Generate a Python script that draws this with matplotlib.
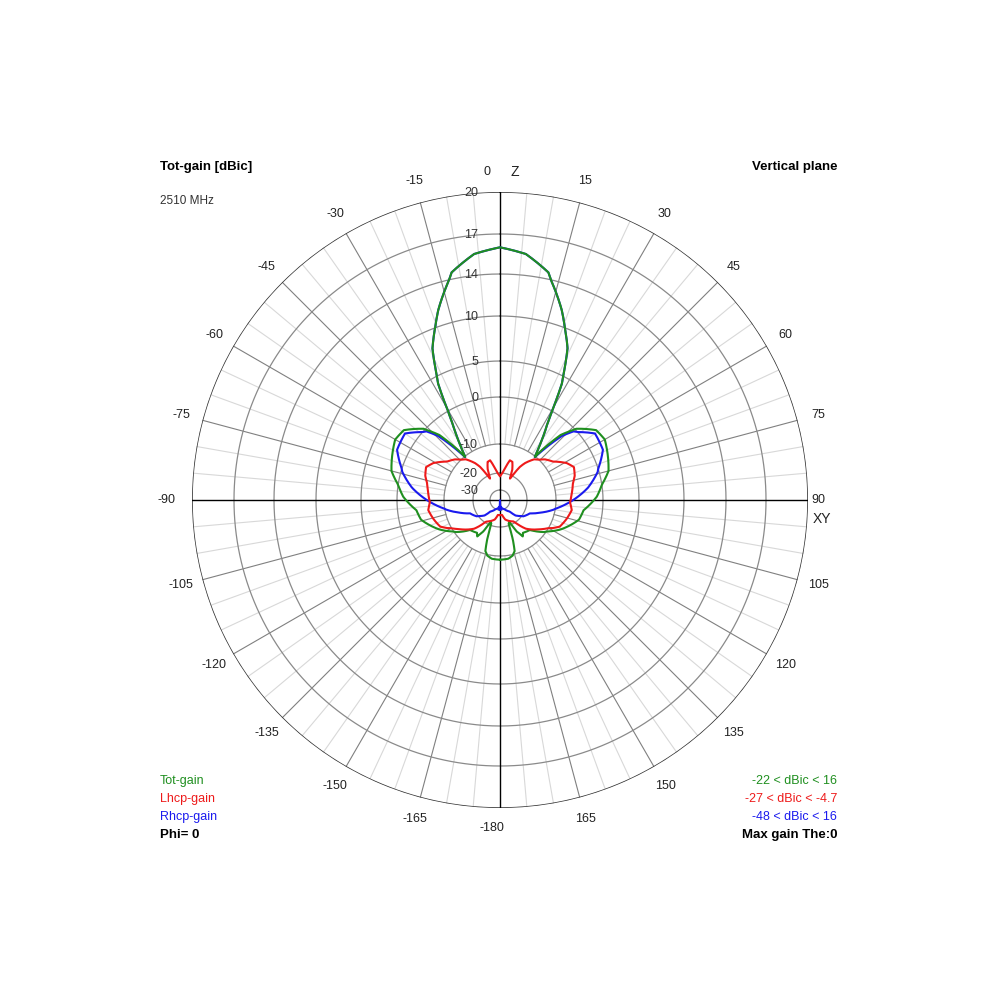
import numpy as np
import matplotlib
matplotlib.use("Agg")
import matplotlib.pyplot as plt

plt.rcParams['font.family'] = ['Liberation Sans', 'DejaVu Sans']

# radial scale: dB ring values and their display radius (pixels of outer radius 308)
ring_db = [-50, -40, -30, -20, -10, 0, 5, 10, 14, 17, 20]
ring_px = [0, 4, 10, 27, 56, 103, 139, 184, 226, 266, 308]
ring_labels = ["-30", "-20", "-10", "0", "5", "10", "14", "17", "20"]

# patterns (angle deg clockwise from Z, dBic), right half; mirrored for left
tot_ang = [0, 6, 12, 18, 21, 24, 28, 32, 35, 37, 39, 40, 43, 47, 54, 60, 65, 75, 88, 97, 104, 116, 126, 135, 145, 148, 150, 152, 157, 160, 162, 164, 167, 172, 180]
tot_db = [16, 15.6, 14.5, 11.5, 9.8, 8, 4, -3, -6.5, -8.5, -10.2, -8, -3, 0.2, 2.2, 2.5, 2.1, 1.3, -1.3, -4, -4.6, -7.6, -10.5, -14.7, -15.5, -14.5, -16, -17, -22, -21, -15, -11, -9.8, -9.3, -9.2]
rhcp_ang = [0, 6, 12, 18, 21, 24, 28, 32, 35, 37, 39, 41, 44, 47, 55, 64, 74, 82, 88, 94, 100, 107, 114, 125, 135, 140, 150, 165, 172, 176, 180]
rhcp_db = [16, 15.6, 14.5, 11.5, 9.8, 8, 4, -3, -6.5, -8.5, -10.3, -7.5, -3, -0.5, 1.8, 1.6, -0.3, -3, -5.5, -8, -10.4, -14.5, -18, -19.5, -23, -27, -29, -32, -35, -30, -48]
lhcp_ang = [0, 5, 9, 14, 18, 22, 25, 28, 31, 34, 40, 48, 54, 61, 66, 72, 77, 85, 92, 98, 106, 114, 118, 127, 138, 148, 157, 165, 172, 180]
lhcp_db = [-22, -20, -18.3, -15.2, -15.5, -18, -22, -19, -16, -14, -11, -9, -8, -5.7, -4.7, -5.2, -6, -6.6, -7, -6.5, -7.2, -8, -9.2, -12.5, -16, -21, -22.5, -24, -27, -27]

tick_angles = [0, 15, 30, 45, 60, 75, 90, 105, 120, 135, 150, 165, 180,
               -15, -30, -45, -60, -75, -90, -105, -120, -135, -150, -165]


def to_r(db):
    return np.interp(db, ring_db, ring_px)


def mirror(a, d):
    a = np.asarray(a, float); d = np.asarray(d, float)
    aa = np.concatenate([-a[::-1], a[1:]])
    dd = np.concatenate([d[::-1], d[1:]])
    fine = np.linspace(-180, 180, 1441)
    df = np.interp(fine, aa, dd)
    return np.deg2rad(fine), to_r(df)


fig = plt.figure(figsize=(10, 10), dpi=100)
ax = fig.add_axes([0.192, 0.192, 0.616, 0.616], projection='polar')
ax.set_theta_zero_location('N')
ax.set_theta_direction(-1)
ax.set_rlim(0, 308)
ax.grid(False)
ax.set_xticks([]); ax.set_yticks([])
ax.spines['polar'].set_visible(False)

t = np.linspace(0, 2 * np.pi, 721)
for a in range(0, 360, 5):
    th = np.deg2rad(a)
    if a % 90 == 0:
        continue
    if a % 15 == 0:
        ax.plot([th, th], [to_r(-10), 308], color='#808080', lw=0.8, zorder=1)
    else:
        ax.plot([th, th], [to_r(-10), 308], color='#d8d8d8', lw=0.8, zorder=1)
for v in ring_db[2:-1]:
    ax.plot(t, np.full_like(t, to_r(v)), color='#8a8a8a', lw=0.9, zorder=1)
ax.plot(t, np.full_like(t, 308), color='#333333', lw=1.1, zorder=2)
ax.plot([0, np.pi], [308, 308], color='black', lw=1.0, zorder=2)
ax.plot([np.pi / 2, 3 * np.pi / 2], [308, 308], color='black', lw=1.0, zorder=2)

th, r = mirror(rhcp_ang, rhcp_db)
ax.plot(th, r, color='#1a1aee', lw=1.5, zorder=3)
th, r = mirror(tot_ang, tot_db)
ax.plot(th, r, color='#1f8f1f', lw=1.5, zorder=4)
th, r = mirror(lhcp_ang, lhcp_db)
ax.plot(th, r, color='#ee1a1a', lw=1.5, zorder=5)

for lab, v in zip(ring_labels, ring_db[2:]):
    y = 500 - to_r(v)
    fig.text(478 / 1000, 1 - (y + 1) / 1000, lab, ha='right', va='center', fontsize=9, color='#333333')

for a in tick_angles:
    if a in (0, 90, -90, 180):
        continue
    ax.text(np.deg2rad(a), 330, str(a), ha='center', va='center', fontsize=9, color='#222222')
fig.text(0.487, 1 - 0.172, "0", ha='center', va='center', fontsize=9, color='#222222')
fig.text(0.515, 1 - 0.172, "Z", ha='center', va='center', fontsize=10, color='#222222')
fig.text(0.167, 0.5, "-90", ha='center', va='center', fontsize=9, color='#222222')
fig.text(0.818, 0.5, "90", ha='center', va='center', fontsize=9, color='#222222')
fig.text(0.822, 1 - 0.519, "XY", ha='center', va='center', fontsize=10, color='#222222')
fig.text(0.492, 1 - 0.828, "-180", ha='center', va='center', fontsize=9, color='#222222')

fig.text(0.160, 1 - 0.167, "Tot-gain [dBic]", ha='left', va='center', fontsize=9.5, fontweight='bold')
fig.text(0.837, 1 - 0.167, "Vertical plane", ha='right', va='center', fontsize=9.5, fontweight='bold')
fig.text(0.160, 1 - 0.201, "2510 MHz", ha='left', va='center', fontsize=8.5, color='#333333')

fig.text(0.160, 1 - 0.781, "Tot-gain", ha='left', va='center', fontsize=9, color='#1f8f1f')
fig.text(0.160, 1 - 0.799, "Lhcp-gain", ha='left', va='center', fontsize=9, color='#ee1a1a')
fig.text(0.160, 1 - 0.817, "Rhcp-gain", ha='left', va='center', fontsize=9, color='#1a1aee')
fig.text(0.160, 1 - 0.835, "Phi= 0", ha='left', va='center', fontsize=9.5, fontweight='bold')
fig.text(0.837, 1 - 0.781, "-22 < dBic < 16", ha='right', va='center', fontsize=9, color='#1f8f1f')
fig.text(0.837, 1 - 0.799, "-27 < dBic < -4.7", ha='right', va='center', fontsize=9, color='#ee1a1a')
fig.text(0.837, 1 - 0.817, "-48 < dBic < 16", ha='right', va='center', fontsize=9, color='#1a1aee')
fig.text(0.837, 1 - 0.835, "Max gain The:0", ha='right', va='center', fontsize=9.5, fontweight='bold')

fig.savefig("out.png", dpi=100, facecolor='white')
